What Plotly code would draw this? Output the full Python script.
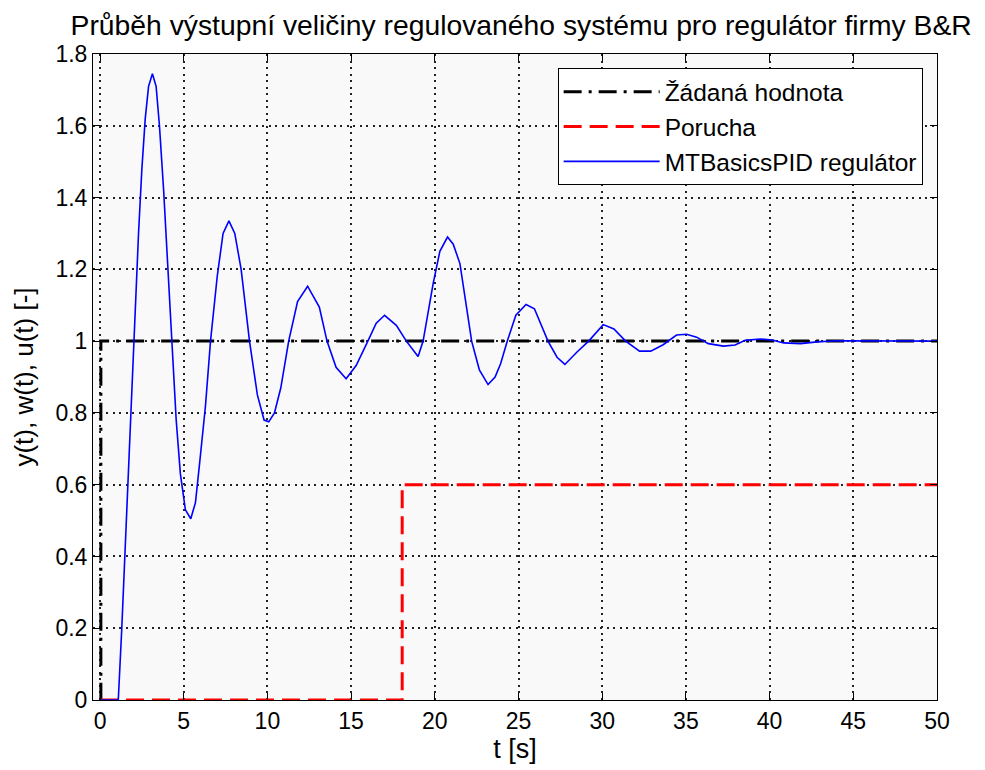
import plotly.graph_objects as go

# setpoint (Žádaná hodnota)
t_w = [0, 0.05, 0.05, 50]
w = [0, 0, 1, 1]

# disturbance (Porucha)
t_d = [0, 18.05, 18.05, 50]
d = [0, 0, 0.6, 0.6]

# controlled output (MTBasicsPID regulátor)
t_y = [0, 1.09, 1.3, 1.5, 1.7, 1.9, 2.1, 2.3, 2.5, 2.7, 2.9, 3.13, 3.35, 3.55, 3.8,
       4.05, 4.3, 4.55, 4.8, 5.1, 5.42, 5.7, 5.95, 6.3, 6.6, 7.0, 7.35, 7.7, 8.05,
       8.43, 8.93, 9.4, 9.8, 10.08, 10.42, 10.8, 11.27, 11.8, 12.4, 13.1, 13.56,
       14.1, 14.7, 15.3, 16.0, 16.5, 17.0, 17.7, 18.3, 19.0, 19.3, 19.9, 20.3,
       20.76, 21.1, 21.5, 22.2, 22.66, 23.18, 23.6, 23.93, 24.33, 24.84, 25.45,
       25.95, 26.76, 27.3, 27.77, 28.48, 29.19, 30.06, 30.7, 31.4, 32.23, 32.9,
       33.64, 34.44, 35.04, 35.64, 36.34, 37.24, 37.94, 38.54, 39.44, 40.14,
       40.84, 41.84, 42.84, 44.04, 46, 48, 50]
y = [0, 0, 0.2, 0.42, 0.65, 0.88, 1.1, 1.3, 1.48, 1.62, 1.71, 1.745, 1.71, 1.6, 1.42,
     1.2, 0.98, 0.78, 0.63, 0.53, 0.505, 0.55, 0.66, 0.82, 1.0, 1.18, 1.3, 1.335, 1.3,
     1.2, 1.0, 0.85, 0.78, 0.775, 0.8, 0.87, 1.0, 1.11, 1.153, 1.095, 1.0,
     0.927, 0.895, 0.932, 1.0, 1.05, 1.072, 1.044, 1.0, 0.957, 1.0, 1.16, 1.25,
     1.29, 1.27, 1.216, 1.0, 0.92, 0.879, 0.9, 0.937, 1.0, 1.072, 1.102,
     1.09, 1.0, 0.955, 0.935, 0.969, 1.0, 1.046, 1.034, 1.0, 0.972, 0.972,
     0.99, 1.017, 1.019, 1.011, 0.993, 0.986, 0.989, 1.002, 1.006, 1.003,
     0.995, 0.993, 0.998, 1.001, 1.0, 1.0, 1.0]

x_ticks = [0, 5, 10, 15, 20, 25, 30, 35, 40, 45, 50]
y_ticks = [0, 0.2, 0.4, 0.6, 0.8, 1, 1.2, 1.4, 1.6, 1.8]
y_ticktext = ["0", "0.2", "0.4", "0.6", "0.8", "1", "1.2", "1.4", "1.6", "1.8"]

font = "Liberation Sans, Arial, sans-serif"

fig = go.Figure()
fig.add_trace(go.Scatter(x=t_w, y=w, mode="lines", name="Žádaná hodnota",
                         line=dict(color="black", width=3, dash="18px,7px,3px,7px")))
fig.add_trace(go.Scatter(x=t_d, y=d, mode="lines", name="Porucha",
                         line=dict(color="#ff0000", width=3, dash="18px,8px")))
fig.add_trace(go.Scatter(x=t_y, y=y, mode="lines", name="MTBasicsPID regulátor",
                         line=dict(color="#0000ff", width=1.6)))

axis_style = dict(
    showline=True, linecolor="black", linewidth=1, mirror="ticks",
    ticks="inside", ticklen=7, tickcolor="black",
    showgrid=True, gridcolor="#222", gridwidth=1.5, griddash="2px,4.5px",
    zeroline=False, tickfont=dict(size=23, color="black", family=font),
)

fig.update_xaxes(range=[-0.42, 50], tickvals=x_ticks,
                 title=dict(text="t [s]", font=dict(size=27, color="black", family=font), standoff=4),
                 **axis_style)
fig.update_yaxes(range=[0, 1.8], tickvals=y_ticks, ticktext=y_ticktext,
                 title=dict(text="y(t), w(t), u(t) [-]", font=dict(size=26, color="black", family=font), standoff=14),
                 **axis_style)

fig.update_layout(
    width=985, height=770,
    margin=dict(l=85, r=56, t=46, b=78),
    paper_bgcolor="white", plot_bgcolor="#f9f9f9",
    font=dict(family=font, color="black"),
    title=dict(text="Průběh výstupní veličiny regulovaného systému pro regulátor firmy B&R",
               x=0.521, xanchor="center", xref="container",
               y=0.978, yanchor="middle", yref="container",
               font=dict(size=28.3, color="black", family=font)),
    legend=dict(x=0.983, xanchor="right", y=0.978, yanchor="top",
                bgcolor="white", bordercolor="black", borderwidth=1,
                font=dict(size=24.5, color="black", family=font),
                itemwidth=96),
    showlegend=True,
)

fig.write_html("out.html")
